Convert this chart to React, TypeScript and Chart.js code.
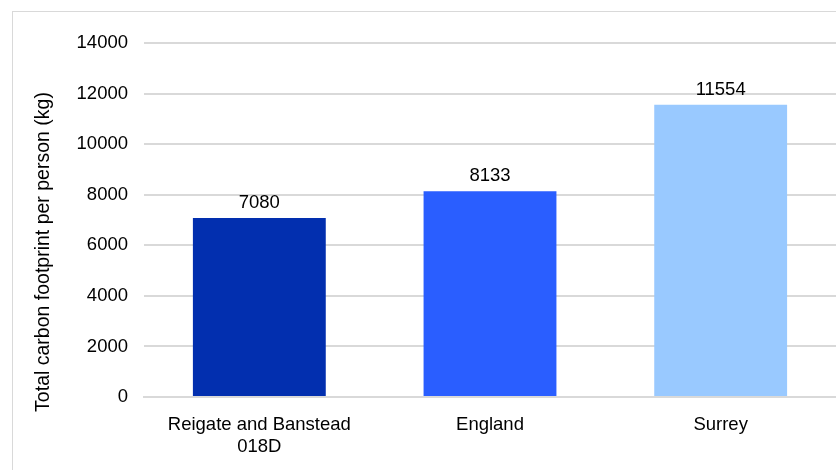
import React, { useEffect, useRef } from "react";
import { Chart, registerables } from "chart.js";
Chart.register(...registerables);

const categories: (string | string[])[] = [["Reigate and Banstead", "018D"], "England", "Surrey"];
const values = [7080, 8133, 11554];
const barColors = ["#022FAF", "#2A5EFF", "#99C9FF"];
const yTitle = "Total carbon footprint per person (kg)";
const FONT = "'Liberation Sans', Arial, sans-serif";

const framePlugin = {
  id: "frame",
  beforeDraw(chart: any) {
    const ctx = chart.ctx;
    ctx.save();
    ctx.fillStyle = "#ffffff";
    ctx.fillRect(0, 0, chart.width, chart.height);
    ctx.strokeStyle = "#d9d9d9";
    ctx.lineWidth = 1;
    ctx.strokeRect(12.5, 11.5, 1000, 1000);
    ctx.restore();
  },
  afterDraw(chart: any) {
    const ctx = chart.ctx;
    ctx.save();
    ctx.font = `19.5px ${FONT}`;
    ctx.fillStyle = "#000000";
    ctx.textAlign = "center";
    ctx.textBaseline = "middle";
    ctx.translate(44, 252);
    ctx.rotate(-Math.PI / 2);
    ctx.fillText(yTitle, 0, 0);
    ctx.restore();
  },
};

const labelPlugin = {
  id: "valueLabels",
  afterDatasetsDraw(chart: any) {
    const ctx = chart.ctx;
    const meta = chart.getDatasetMeta(0);
    ctx.save();
    ctx.font = `18.5px ${FONT}`;
    ctx.fillStyle = "#000000";
    ctx.textAlign = "center";
    ctx.textBaseline = "alphabetic";
    meta.data.forEach((bar: any, i: number) => {
      ctx.fillText(String(values[i]), bar.x, bar.y - 10);
    });
    ctx.restore();
  },
};

export default function App() {
  const ref = useRef<HTMLCanvasElement>(null);
  useEffect(() => {
    const chart = new Chart(ref.current!, {
      type: "bar",
      data: {
        labels: categories,
        datasets: [
          {
            data: values,
            backgroundColor: barColors,
            categoryPercentage: 1,
            barPercentage: 0.576,
          },
        ],
      },
      options: {
        animation: false,
        responsive: false,
        layout: { padding: { top: 43, left: 0, right: 0, bottom: 0 } },
        plugins: { legend: { display: false }, tooltip: { enabled: false } },
        scales: {
          x: {
            grid: { display: false, drawTicks: false },
            border: { display: true, color: "#d9d9d9", width: 2 },
            ticks: { color: "#000", font: { family: FONT, size: 18.5 }, padding: 17, maxRotation: 0, autoSkip: false },
            afterFit(scale: any) {
              scale.height = 470 - 397;
            },
          },
          y: {
            min: 0,
            max: 14000,
            grid: { color: "#d9d9d9", lineWidth: 2, drawTicks: false },
            border: { display: false },
            ticks: {
              stepSize: 2000,
              color: "#000",
              font: { family: FONT, size: 18.5 },
              padding: 16,
              callback: (v: any) => String(v),
            },
            title: { display: false },
            afterFit(scale: any) {
              scale.width = 144;
            },
          },
        },
      },
      plugins: [framePlugin, labelPlugin],
    });
    return () => chart.destroy();
  }, []);
  return (
    <div style={{ position: "fixed", left: 0, top: 0, width: 836, height: 470 }}>
      <canvas ref={ref} width={836} height={470} style={{ width: 836, height: 470 }} />
    </div>
  );
}
